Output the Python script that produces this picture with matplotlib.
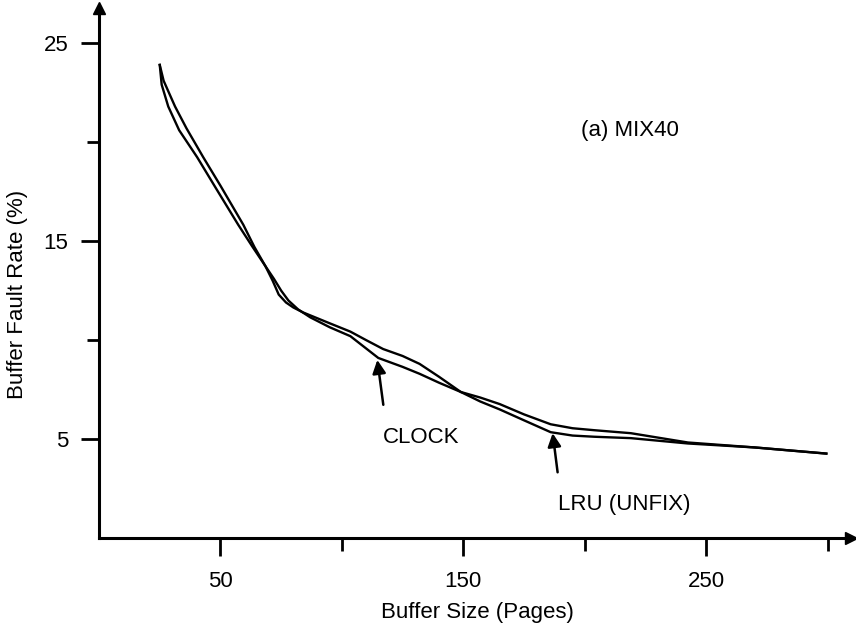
import matplotlib
matplotlib.use("Agg")
import matplotlib.pyplot as plt
from matplotlib.ticker import FixedLocator, NullFormatter

plt.rcParams['font.family'] = ['Liberation Sans', 'DejaVu Sans']

# buffer size (pages) / fault rate (%)
clock_x = [25, 25.8, 28.5, 33, 40.4, 48, 57.3, 63, 68.5, 72, 75, 78, 82, 87, 95, 103.5, 115, 125, 132, 140, 149,
           157, 165, 175, 186, 195, 204, 219, 242.5, 270, 299.5]
clock_y = [23.9, 22.9, 21.8, 20.6, 19.24, 17.7, 15.83, 14.75, 13.74, 13.1, 12.5, 12.0, 11.55, 11.15, 10.65, 10.2,
           9.1, 8.65, 8.3, 7.85, 7.38, 7.1, 6.77, 6.25, 5.75, 5.55, 5.45, 5.3, 4.83, 4.58, 4.27]

lru_x = [25, 26.6, 31.3, 36, 42.9, 50, 59.4, 64, 68.5, 71.5, 74, 77, 80, 84, 87, 95, 103.5, 110, 117, 125, 132,
         140, 149, 157, 165, 175, 186, 195, 204, 219, 242.5, 270, 299.5]
lru_y = [23.9, 23.1, 21.8, 20.7, 19.24, 17.8, 15.83, 14.7, 13.74, 13.0, 12.3, 11.9, 11.65, 11.4, 11.25, 10.85,
         10.43, 10.0, 9.55, 9.2, 8.8, 8.15, 7.38, 6.9, 6.5, 5.95, 5.35, 5.18, 5.12, 5.05, 4.78, 4.58, 4.27]

x_major = [50, 150, 250]
x_minor = [100, 200, 300]
y_major = [5, 15, 25]
y_minor = [10, 20]

fig = plt.figure(figsize=(8.56, 6.25), dpi=100)
ax = fig.add_axes([0.1157, 0.139, 0.878, 0.849])

ax.plot(clock_x, clock_y, color="black", lw=1.7, solid_joinstyle="round")
ax.plot(lru_x, lru_y, color="black", lw=1.7, solid_joinstyle="round")

ax.set_xlim(0, 309.5)
ax.set_ylim(0, 26.8)

# axes with arrow heads
for s in ["top", "right"]:
    ax.spines[s].set_visible(False)
for s in ["left", "bottom"]:
    ax.spines[s].set_linewidth(2.2)
ax.plot(1, 0, ">", color="black", ms=9, transform=ax.transAxes, clip_on=False)
ax.plot(0, 1, "^", color="black", ms=9, transform=ax.transAxes, clip_on=False)

ax.xaxis.set_major_locator(FixedLocator(x_major))
ax.xaxis.set_minor_locator(FixedLocator(x_minor))
ax.yaxis.set_major_locator(FixedLocator(y_major))
ax.yaxis.set_minor_locator(FixedLocator(y_minor))
ax.xaxis.set_minor_formatter(NullFormatter())
ax.yaxis.set_minor_formatter(NullFormatter())
ax.tick_params(which="major", direction="out", length=13, width=2, labelsize=16)
ax.tick_params(axis="x", which="major", pad=11)
ax.tick_params(axis="y", which="major", pad=9)
ax.tick_params(which="minor", direction="out", length=9, width=2)

ax.set_xlabel("Buffer Size (Pages)", fontsize=16)
ax.set_ylabel("Buffer Fault Rate (%)", fontsize=16)
ax.xaxis.set_label_coords(0.503, -0.12)
ax.yaxis.set_label_coords(-0.095, 0.46)

ax.text(198.4, 20.6, "(a) MIX40", fontsize=16, va="center", ha="left")

arrow = dict(arrowstyle="-|>", color="black", lw=1.8, mutation_scale=20)
ax.annotate("CLOCK", xy=(114.6, 9.0), xytext=(116.7, 5.09),
            fontsize=16, va="center", ha="left", arrowprops=dict(arrow, shrinkA=14, shrinkB=0,
                                                                  relpos=(0.05, 1)))
ax.annotate("LRU (UNFIX)", xy=(186.8, 5.3), xytext=(188.9, 1.68),
            fontsize=16, va="center", ha="left", arrowprops=dict(arrow, shrinkA=14, shrinkB=0,
                                                                  relpos=(0.02, 1)))

fig.savefig("out.png", dpi=100)
